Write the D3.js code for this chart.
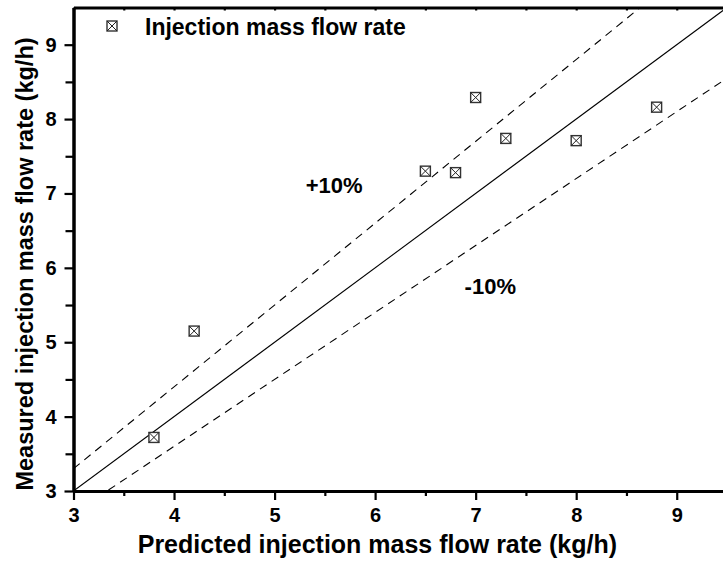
<!DOCTYPE html>
<html>
<head>
<meta charset="utf-8">
<script src="https://cdn.jsdelivr.net/npm/d3@7/dist/d3.min.js"></script>
<style>
  html, body { margin: 0; padding: 0; background: #fff; }
  svg { display: block; font-family: "Liberation Sans", Arial, Helvetica, sans-serif; font-weight: bold; }
</style>
</head>
<body>
<svg id="chart" width="723" height="568"></svg>
<script>
// Predicted vs. measured injection mass flow rate (kg/h)
const predicted = [3.8, 4.2, 6.5, 6.8, 7.0, 7.3, 8.0, 8.8];
const measured  = [3.72, 5.15, 7.30, 7.28, 8.29, 7.74, 7.71, 8.16];
const majorTicks = [3, 4, 5, 6, 7, 8, 9];
const minorTicks = [3.5, 4.5, 5.5, 6.5, 7.5, 8.5, 9.5];
const bandLines = [
  { factor: 1.0, dashed: false },
  { factor: 1.1, dashed: true, label: "+10%", lx: 5.31, ly: 7.0 },
  { factor: 0.9, dashed: true, label: "-10%", lx: 6.89, ly: 5.65 }
];
const seriesName = "Injection mass flow rate";
const xTitle = "Predicted injection mass flow rate (kg/h)";
const yTitle = "Measured injection mass flow rate (kg/h)";

const svg = d3.select("#chart");
const plotLeft = 73.5, plotRight = 727, plotTop = 7.5, plotBottom = 491;

const x = d3.scaleLinear().domain([3, 9.5]).range([plotLeft, plotRight]);
const y = d3.scaleLinear().domain([3, 9.5]).range([plotBottom, plotTop]);

svg.append("defs").append("clipPath").attr("id", "plotclip")
  .append("rect").attr("x", plotLeft).attr("y", plotTop)
  .attr("width", plotRight - plotLeft).attr("height", plotBottom - plotTop);

// reference lines y = x and ±10%
const plot = svg.append("g").attr("clip-path", "url(#plotclip)");
const line = d3.line().x(d => x(d[0])).y(d => y(d[1]));
bandLines.forEach(b => {
  plot.append("path")
    .datum([[3, 3 * b.factor], [9.5, 9.5 * b.factor]])
    .attr("d", line)
    .attr("fill", "none")
    .attr("stroke", "#000")
    .attr("stroke-width", 1.1)
    .attr("stroke-dasharray", b.dashed ? "8,6" : null);
});

// band labels
bandLines.filter(b => b.label).forEach(b => {
  svg.append("text")
    .attr("x", x(b.lx)).attr("y", y(b.ly))
    .attr("font-size", 22)
    .attr("fill", "#000")
    .text(b.label);
});

// markers: square with a cross
function marker(g, cx, cy, s) {
  const h = s / 2;
  g.append("rect").attr("x", cx - h).attr("y", cy - h).attr("width", s).attr("height", s)
    .attr("fill", "#fff").attr("stroke", "#333").attr("stroke-width", 1.4);
  g.append("path")
    .attr("d", `M${cx - h},${cy - h}L${cx + h},${cy + h}M${cx + h},${cy - h}L${cx - h},${cy + h}`)
    .attr("stroke", "#222").attr("stroke-width", 1);
}
const pts = svg.append("g");
predicted.forEach((p, i) => marker(pts, x(p), y(measured[i]), 10));

// axes
const axisStyle = g => {
  g.select(".domain").attr("stroke-width", 3);
  g.selectAll(".tick line").attr("stroke-width", 2.2);
  g.selectAll("text").attr("font-size", 20).attr("font-weight", "bold")
    .attr("font-family", "Liberation Sans, Arial, sans-serif").attr("fill", "#000");
};

svg.append("g").attr("transform", `translate(0,${plotBottom})`)
  .call(d3.axisBottom(x).tickValues(minorTicks).tickSize(5).tickSizeOuter(0).tickFormat(""))
  .call(axisStyle);
svg.append("g").attr("transform", `translate(0,${plotBottom})`)
  .call(d3.axisBottom(x).tickValues(majorTicks).tickSize(9).tickPadding(8).tickSizeOuter(0).tickFormat(d3.format("d")))
  .call(axisStyle);

svg.append("g").attr("transform", `translate(${plotLeft},0)`)
  .call(d3.axisLeft(y).tickValues(minorTicks.filter(v => v < 9.5)).tickSize(8).tickSizeOuter(0).tickFormat(""))
  .call(axisStyle);
svg.append("g").attr("transform", `translate(${plotLeft},0)`)
  .call(d3.axisLeft(y).tickValues(majorTicks).tickSize(9).tickPadding(8).tickSizeOuter(0).tickFormat(d3.format("d")))
  .call(axisStyle);

// top frame with small inward ticks
svg.append("g").attr("transform", `translate(0,${plotTop})`)
  .call(d3.axisTop(x).tickValues(majorTicks.concat(minorTicks)).tickSize(-3).tickSizeOuter(0).tickFormat(""))
  .call(axisStyle);

// axis titles
svg.append("text")
  .attr("x", 617).attr("y", 553)
  .attr("text-anchor", "end").attr("font-size", 25).attr("fill", "#000")
  .text(xTitle);
svg.append("text")
  .attr("transform", `translate(33,264) rotate(-90)`)
  .attr("text-anchor", "middle").attr("font-size", 23.5).attr("fill", "#000")
  .text(yTitle);

// legend
const legend = svg.append("g");
marker(legend, 112, 26, 10);
legend.append("text").attr("x", 145).attr("y", 35)
  .attr("font-size", 23).attr("fill", "#000").text(seriesName);
</script>
</body>
</html>
